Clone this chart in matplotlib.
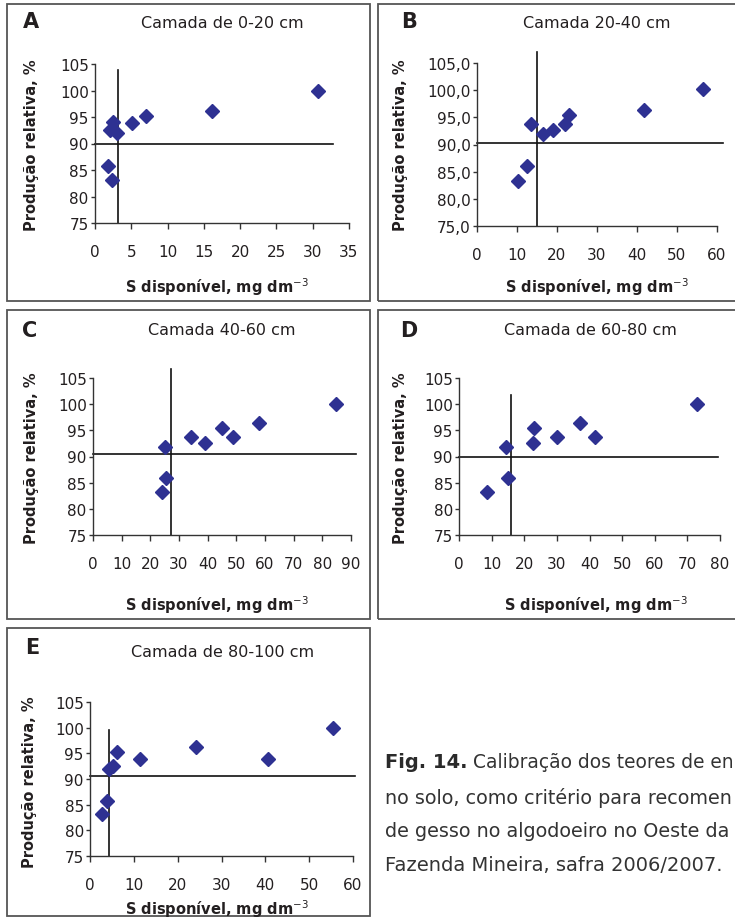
import matplotlib
matplotlib.use("Agg")
import matplotlib.pyplot as plt
from matplotlib.patches import Rectangle
from matplotlib.ticker import FuncFormatter, MultipleLocator

# dados (S disponível, produção relativa)
a_x = [30.7, 16.1, 7.0, 5.1, 2.5, 2.1, 3.1, 1.8, 2.4]
a_y = [100.0, 96.2, 95.2, 93.9, 94.0, 92.6, 92.0, 85.8, 83.1]
b_x = [56.4, 41.7, 23.1, 21.9, 19.0, 16.6, 13.6, 12.6, 10.2]
b_y = [100.2, 96.4, 95.5, 93.8, 92.6, 91.9, 93.8, 86.0, 83.3]
c_x = [84.8, 57.8, 45.0, 48.7, 34.2, 39.2, 25.0, 25.6, 24.1]
c_y = [100.0, 96.4, 95.5, 93.8, 93.8, 92.5, 91.9, 85.8, 83.3]
d_x = [73.0, 37.0, 22.9, 41.6, 29.9, 22.7, 14.3, 15.0, 8.7]
d_y = [100.0, 96.4, 95.5, 93.8, 93.8, 92.5, 91.9, 85.8, 83.3]
e_x = [55.4, 24.2, 40.7, 11.4, 6.1, 5.2, 4.4, 3.8, 2.7]
e_y = [100.0, 96.2, 93.9, 93.9, 95.2, 92.6, 92.0, 85.8, 83.2]

# nível crítico (linha vertical) e 90% (linha horizontal)
crit_x = [3.2, 14.9, 27.3, 15.9, 4.4]
crit_y = [90.0, 90.2, 90.4, 90.0, 90.5]
vline_top = [103.9, 107.0, 106.7, 101.7, 99.5]
hline_end = [32.75, 61.6, 91.9, 79.3, 60.5]

x_max = [35, 60, 90, 80, 60]
x_step = [5, 10, 10, 10, 10]
letters = ["A", "B", "C", "D", "E"]
titles = ["Camada de 0-20 cm", "Camada 20-40 cm", "Camada 40-60 cm",
          "Camada de 60-80 cm", "Camada de 80-100 cm"]
y_decimal = [False, True, False, False, False]

xs = [a_x, b_x, c_x, d_x, e_x]
ys = [a_y, b_y, c_y, d_y, e_y]

W, H = 735, 920
def fx(px):
    return px / W
def fy(py):
    return 1 - py / H

# posições em pixels
axes_px = [(95, 65, 349, 224), (477, 64, 717, 227), (93, 379, 351, 536),
           (459, 379, 720, 536), (90, 703, 353, 857)]
box_px = [(7, 5, 370, 302), (378, 5, 745, 302), (7, 311, 370, 620),
          (378, 311, 745, 620), (7, 629, 370, 917)]
letter_px = [(23, 22), (401, 22), (22, 331), (400, 331), (25, 648)]
title_px = [(222, 23), (597, 23), (222, 331), (590, 331), (223, 653)]
xlabel_px = [(217, 287), (597, 287), (217, 605), (596, 605), (217, 909)]
ylabel_px = [(32, 145), (400, 145), (32, 458), (400, 458), (30, 782)]

TXT = "#231f20"
MARK = "#2e3192"
plt.rcParams["font.family"] = ["DejaVu Sans"]

fig = plt.figure(figsize=(7.35, 9.2), dpi=100)

for i in range(5):
    l, t, r, b = axes_px[i]
    ax = fig.add_axes([fx(l), fy(b), (r - l) / W, (b - t) / H])
    ax.plot(xs[i], ys[i], linestyle="none", marker="D", markersize=6.8,
            color=MARK, zorder=3, clip_on=False)
    ax.plot([crit_x[i], crit_x[i]], [75, vline_top[i]], color="#111111",
            lw=1.2, clip_on=False)
    ax.plot([0, hline_end[i]], [crit_y[i], crit_y[i]], color="#111111",
            lw=1.2, clip_on=False)
    ax.set_xlim(0, x_max[i])
    ax.set_ylim(75, 105)
    ax.xaxis.set_major_locator(MultipleLocator(x_step[i]))
    ax.yaxis.set_major_locator(MultipleLocator(5))
    ax.xaxis.set_major_formatter(FuncFormatter(lambda v, p: "%d" % v))
    if y_decimal[i]:
        ax.yaxis.set_major_formatter(
            FuncFormatter(lambda v, p: ("%.1f" % v).replace(".", ",")))
    else:
        ax.yaxis.set_major_formatter(FuncFormatter(lambda v, p: "%d" % v))
    for s in ["top", "right"]:
        ax.spines[s].set_visible(False)
    for s in ["left", "bottom"]:
        ax.spines[s].set_color("#333333")
        ax.spines[s].set_linewidth(1.0)
    ax.tick_params(axis="x", direction="out", length=4, width=1.0,
                   color="#333333", pad=11, labelsize=11, labelcolor=TXT)
    ax.tick_params(axis="y", direction="out", length=3, width=1.0,
                   color="#333333", pad=1.5, labelsize=11, labelcolor=TXT)
    ax.patch.set_alpha(0)

    bl, bt, br, bb = box_px[i]
    fig.patches.append(Rectangle((fx(bl), fy(bb)), (br - bl) / W, (bb - bt) / H,
                                 transform=fig.transFigure, fill=False,
                                 edgecolor="#555555", lw=1.3))
    fig.text(fx(letter_px[i][0]), fy(letter_px[i][1]), letters[i],
             fontsize=15, fontweight="bold", color=TXT, ha="left", va="center")
    fig.text(fx(title_px[i][0]), fy(title_px[i][1]), titles[i],
             fontsize=11.5, color=TXT, ha="center", va="center")
    fig.text(fx(xlabel_px[i][0]), fy(xlabel_px[i][1]),
             r"S disponível, mg dm$^{-3}$", fontsize=10.5,
             fontweight="bold", color=TXT, ha="center", va="center")
    fig.text(fx(ylabel_px[i][0]), fy(ylabel_px[i][1]), "Produção relativa, %",
             fontsize=10.5, fontweight="bold", color=TXT, ha="center",
             va="center", rotation=90)

# legenda da figura (o original está cortado na borda direita)
cap_lines = ["Calibração dos teores de en",
             "no solo, como critério para recomen",
             "de gesso no algodoeiro no Oeste da",
             "Fazenda Mineira, safra 2006/2007."]
cap_y = [763, 798, 832, 866]
CAP = "#333333"
renderer = fig.canvas.get_renderer()

def fit_text(x_px, y_px, s, size, **kw):
    t = fig.text(fx(x_px), fy(y_px), s, fontsize=size, color=CAP,
                 ha="left", va="center", **kw)
    while t.get_window_extent(renderer).x1 > W - 1 and size > 8:
        size -= 0.2
        t.set_fontsize(size)
    return t

lbl = fig.text(fx(385), fy(cap_y[0]), "Fig. 14.", fontsize=14,
               fontweight="bold", color="#2a2a2a", ha="left", va="center")
bb = lbl.get_window_extent(renderer)
fit_text(bb.x1 + 5, cap_y[0], cap_lines[0], 14)
for k in range(1, 4):
    fit_text(385, cap_y[k], cap_lines[k], 14)

fig.savefig("out.png", dpi=100)
